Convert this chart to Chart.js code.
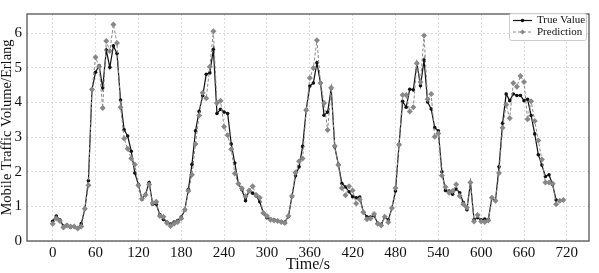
<!DOCTYPE html>
<html>
<head>
<meta charset="utf-8">
<script src="https://cdn.jsdelivr.net/npm/chart.js@4"></script>
<style>
  html, body { margin: 0; padding: 0; background: #fff; }
  #wrap { width: 599px; height: 273px; }
</style>
</head>
<body>
<div id="wrap"><canvas id="myChart" width="599" height="273"></canvas></div>
<script>
// time axis, one sample every 5 s
const times = Array.from({ length: 144 }, (_, i) => i * 5);

const trueValue = [
  0.57, 0.72, 0.61, 0.43, 0.46, 0.40, 0.41, 0.37, 0.50, 0.92, 1.74, 4.37,
  4.87, 5.06, 4.42, 5.51, 5.01, 5.63, 5.41, 4.07, 3.21, 3.03, 2.59, 1.96,
  1.63, 1.20, 1.35, 1.69, 1.06, 1.06, 0.76, 0.62, 0.55, 0.49, 0.55, 0.59,
  0.69, 0.89, 1.49, 2.21, 3.18, 3.74, 4.19, 4.81, 4.85, 5.53, 3.68, 3.80,
  3.72, 3.68, 2.80, 2.25, 1.66, 1.48, 1.16, 1.46, 1.38, 1.30, 1.13, 0.80,
  0.67, 0.63, 0.61, 0.59, 0.56, 0.55, 0.70, 1.28, 1.88, 2.14, 2.73, 3.79,
  4.47, 4.56, 5.14, 4.56, 3.63, 3.72, 4.40, 2.71, 2.21, 1.66, 1.56, 1.42,
  1.28, 1.25, 1.27, 0.83, 0.70, 0.69, 0.73, 0.52, 0.48, 0.69, 0.61, 0.95,
  1.44, 2.78, 4.03, 3.86, 4.38, 4.36, 5.13, 4.48, 5.22, 4.01, 3.81, 3.27,
  3.18, 2.00, 1.46, 1.44, 1.35, 1.50, 1.39, 1.11, 0.90, 1.69, 0.61, 0.67,
  0.61, 0.63, 0.62, 1.25, 1.16, 2.14, 3.40, 4.24, 4.05, 4.24, 4.20, 4.20,
  4.05, 4.09, 3.62, 3.09, 2.49, 2.19, 1.86, 1.91, 1.63, 1.18, 1.16, 1.18
];

const prediction = [
  0.50, 0.65, 0.58, 0.39, 0.45, 0.42, 0.42, 0.36, 0.42, 0.93, 1.61, 4.37,
  5.30, 5.03, 3.84, 5.77, 5.48, 6.25, 5.71, 3.86, 2.96, 2.66, 2.38, 2.21,
  1.60, 1.22, 1.33, 1.63, 1.10, 1.13, 0.72, 0.70, 0.52, 0.43, 0.50, 0.55,
  0.65, 0.90, 1.44, 1.91, 2.80, 3.62, 4.28, 4.12, 5.03, 6.05, 3.98, 4.05,
  3.30, 3.05, 2.65, 1.95, 1.65, 1.52, 1.30, 1.45, 1.58, 1.33, 1.25, 0.81,
  0.72, 0.61, 0.59, 0.58, 0.55, 0.52, 0.72, 1.30, 1.98, 2.30, 2.38, 3.77,
  4.70, 4.99, 5.79, 4.56, 3.98, 3.20, 4.42, 2.74, 2.19, 1.53, 1.32, 1.58,
  1.46, 1.08, 1.20, 0.83, 0.63, 0.65, 0.78, 0.50, 0.45, 0.70, 0.54, 0.95,
  1.53, 2.78, 4.21, 4.21, 3.74, 3.86, 5.13, 4.59, 5.93, 4.09, 4.24, 3.01,
  3.10, 1.89, 1.56, 1.39, 1.44, 1.63, 1.30, 1.06, 0.97, 1.69, 0.56, 0.75,
  0.56, 0.55, 0.59, 1.25, 1.16, 1.96, 3.27, 3.93, 3.54, 4.56, 4.45, 4.76,
  4.59, 3.51, 4.03, 3.46, 2.90, 2.35, 1.69, 1.69, 1.66, 1.06, 1.16, 1.18
];

const xTicks = [0, 60, 120, 180, 240, 300, 360, 420, 480, 540, 600, 660, 720];
const yTicks = [0, 1, 2, 3, 4, 5, 6];

const serif = "'Liberation Serif', 'Times New Roman', serif";

// plot frame + boxed legend like matplotlib
const framePlugin = {
  id: 'frame',
  afterDatasetsDraw(chart) {
    const { ctx, chartArea: a } = chart;
    ctx.save();
    ctx.strokeStyle = '#555';
    ctx.lineWidth = 1.3;
    ctx.strokeRect(a.left, a.top, a.right - a.left, a.bottom - a.top);

    // legend box
    const bx = 509, by = 13, bw = 77, bh = 27;
    ctx.fillStyle = 'rgba(255,255,255,0.9)';
    ctx.strokeStyle = '#ccc';
    ctx.lineWidth = 1;
    ctx.beginPath();
    ctx.roundRect(bx + 0.5, by + 0.5, bw, bh, 2);
    ctx.fill();
    ctx.stroke();

    ctx.font = '11px ' + serif;
    ctx.textBaseline = 'middle';
    chart.data.datasets.forEach((ds, i) => {
      const y = by + 7.5 + i * 11.5;
      ctx.strokeStyle = ds.borderColor;
      ctx.lineWidth = ds.borderWidth;
      ctx.setLineDash(ds.borderDash || []);
      ctx.beginPath();
      ctx.moveTo(bx + 4, y);
      ctx.lineTo(bx + 23, y);
      ctx.stroke();
      ctx.setLineDash([]);
      ctx.fillStyle = ds.pointBackgroundColor;
      ctx.beginPath();
      if (ds.pointStyle === 'rectRot') {
        const r = ds.pointRadius - 0.5;
        ctx.moveTo(bx + 13.5, y - r);
        ctx.lineTo(bx + 13.5 + r, y);
        ctx.lineTo(bx + 13.5, y + r);
        ctx.lineTo(bx + 13.5 - r, y);
        ctx.closePath();
      } else {
        ctx.arc(bx + 13.5, y, ds.pointRadius, 0, Math.PI * 2);
      }
      ctx.fill();
      ctx.fillStyle = '#111';
      ctx.fillText(ds.label, bx + 28, y);
    });
    ctx.restore();
  }
};

const ctx = document.getElementById('myChart').getContext('2d');
const myChart = new Chart(ctx, {
  type: 'line',
  data: {
    labels: times,
    datasets: [{
      label: 'True Value',
      data: times.map((t, i) => ({ x: t, y: trueValue[i] })),
      borderColor: '#111',
      backgroundColor: '#111',
      pointBackgroundColor: '#111',
      pointBorderWidth: 0,
      pointRadius: 1.8,
      borderWidth: 1.2,
      tension: 0,
      order: 1
    }, {
      label: 'Prediction',
      data: times.map((t, i) => ({ x: t, y: prediction[i] })),
      borderColor: '#888',
      backgroundColor: '#888',
      pointBackgroundColor: '#888',
      pointStyle: 'rectRot',
      pointBorderWidth: 0,
      pointRadius: 3,
      borderWidth: 1,
      borderDash: [3, 2],
      tension: 0,
      order: 0
    }]
  },
  options: {
    responsive: false,
    animation: false,
    layout: { padding: { top: 9, right: 10, left: 0, bottom: 0 } },
    plugins: {
      legend: { display: false },
      tooltip: { enabled: false }
    },
    scales: {
      x: {
        type: 'linear',
        min: -36,
        max: 751,
        afterBuildTicks: (s) => { s.ticks = xTicks.map(v => ({ value: v })); },
        afterFit: (s) => { s.height = 32; },
        grid: { color: '#d4d4d4', drawTicks: false, lineWidth: 0.8 },
        border: { display: false, dash: [2, 2] },
        ticks: { color: '#111', padding: 3, maxRotation: 0, font: { family: serif, size: 15 } },
        title: {
          display: true,
          text: 'Time/s',
          color: '#111',
          padding: 0,
          font: { family: serif, size: 16, lineHeight: 1 }
        }
      },
      y: {
        min: 0,
        max: 6.55,
        afterBuildTicks: (s) => { s.ticks = yTicks.map(v => ({ value: v })); },
        afterFit: (s) => { s.width = 27; },
        grid: { color: '#d4d4d4', drawTicks: false, lineWidth: 0.8 },
        border: { display: false, dash: [2, 2] },
        ticks: { color: '#111', padding: 5, font: { family: serif, size: 15 } },
        title: {
          display: true,
          text: 'Mobile Traffic Volume/Erlang',
          color: '#111',
          padding: 0,
          font: { family: serif, size: 14.5, lineHeight: 1 }
        }
      }
    }
  },
  plugins: [framePlugin]
});
</script>
</body>
</html>
